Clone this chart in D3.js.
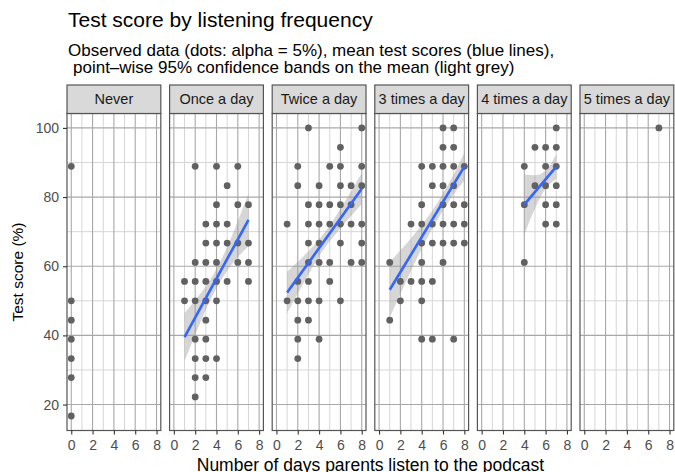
<!DOCTYPE html>
<html>
<head>
<meta charset="utf-8">
<script src="https://cdn.jsdelivr.net/npm/d3@7"></script>
<style>
  body { margin: 0; background: #fff; }
  svg { display: block; }
  text { font-family: "Liberation Sans", Arial, sans-serif; }
</style>
</head>
<body>
<script>
// facet names
const panelNames = ["Never", "Once a day", "Twice a day", "3 times a day", "4 times a day", "5 times a day"];

// observed dots (days listened, test score %)
const neverDays   = [0, 0, 0, 0, 0, 0, 0];
const neverScores = [88.9, 50, 44.4, 38.9, 33.3, 27.8, 16.7];

const onceDays   = [1, 1,
                    2, 2, 2, 2, 2, 2, 2, 2,
                    3, 3, 3, 3, 3, 3, 3, 3, 3,
                    4, 4, 4, 4, 4, 4, 4, 4,
                    5, 5, 5, 5,
                    6, 6, 6, 6,
                    7, 7, 7, 7];
const onceScores = [55.6, 50,
                    88.9, 61.1, 55.6, 50, 38.9, 33.3, 27.8, 22.2,
                    72.2, 66.7, 61.1, 55.6, 50, 44.4, 38.9, 33.3, 27.8,
                    88.9, 77.8, 72.2, 66.7, 61.1, 55.6, 50, 33.3,
                    83.3, 72.2, 66.7, 55.6,
                    88.9, 77.8, 66.7, 61.1,
                    77.8, 66.7, 61.1, 55.6];

const twiceDays   = [1, 1,
                     2, 2, 2, 2, 2, 2, 2,
                     3, 3, 3, 3, 3, 3, 3, 3,
                     4, 4, 4, 4, 4, 4, 4,
                     5, 5, 5, 5, 5,
                     6, 6, 6, 6, 6, 6, 6,
                     7, 7, 7, 7,
                     8, 8, 8, 8, 8, 8];
const twiceScores = [72.2, 50,
                     88.9, 83.3, 55.6, 50, 44.4, 38.9, 33.3,
                     100, 77.8, 72.2, 66.7, 61.1, 55.6, 50, 44.4,
                     83.3, 77.8, 72.2, 66.7, 61.1, 50, 38.9,
                     88.9, 77.8, 72.2, 61.1, 55.6,
                     94.4, 88.9, 83.3, 77.8, 72.2, 66.7, 50,
                     83.3, 77.8, 72.2, 61.1,
                     100, 88.9, 83.3, 72.2, 66.7, 61.1];

const threeDays   = [1, 1,
                     2, 2,
                     3, 3,
                     4, 4, 4, 4, 4, 4, 4, 4,
                     5, 5, 5, 5, 5, 5,
                     6, 6, 6, 6, 6, 6, 6, 6,
                     7, 7, 7, 7, 7, 7, 7, 7,
                     8, 8, 8, 8];
const threeScores = [61.1, 44.4,
                     55.6, 50,
                     72.2, 55.6,
                     88.9, 77.8, 72.2, 66.7, 61.1, 55.6, 50, 38.9,
                     88.9, 83.3, 72.2, 66.7, 55.6, 38.9,
                     100, 94.4, 88.9, 83.3, 77.8, 72.2, 66.7, 61.1,
                     100, 94.4, 88.9, 83.3, 77.8, 72.2, 66.7, 38.9,
                     88.9, 77.8, 72.2, 66.7];

const fourDays   = [4, 4, 4, 5, 5, 6, 6, 6, 6, 6, 7, 7, 7, 7, 7, 7];
const fourScores = [88.9, 77.8, 61.1, 94.4, 83.3, 94.4, 88.9, 83.3, 77.8, 72.2,
                    100, 94.4, 88.9, 83.3, 77.8, 72.2];

const fiveDays   = [7];
const fiveScores = [100];

// fitted mean lines (ends) and 95% band read at whole days
const onceFitDays = [1, 7],  onceFitScores = [39.5, 73.4];
const twiceFitDays = [1, 8], twiceFitScores = [52.4, 82.4];
const threeFitDays = [1, 8], threeFitScores = [53.2, 88.8];
const fourFitDays = [4, 7],  fourFitScores = [77.8, 88.8];

const onceBandDays = [1, 2, 3, 4, 5, 6, 7];
const onceBandLow  = [32.5, 40.2, 47.4, 53.7, 58.7, 62.6, 65.8];
const onceBandHigh = [46.5, 50.2, 54.2, 59.3, 65.5, 73.0, 81.0];

const twiceBandDays = [1, 2, 3, 4, 5, 6, 7, 8];
const twiceBandLow  = [46.4, 52.1, 57.7, 62.9, 67.2, 71.0, 74.5, 77.9];
const twiceBandHigh = [58.4, 61.3, 64.3, 67.7, 71.8, 76.6, 81.7, 86.9];

const threeBandDays = [1, 2, 3, 4, 5, 6, 7, 8];
const threeBandLow  = [45.2, 52.0, 58.7, 65.1, 70.9, 76.2, 80.8, 84.8];
const threeBandHigh = [61.2, 64.6, 68.1, 71.9, 76.1, 81.0, 86.6, 92.8];

const fourBandDays = [4, 5, 6, 7];
const fourBandLow  = [69.1, 76.7, 82.5, 85.2];
const fourBandHigh = [86.5, 86.3, 87.7, 92.4];

// axis breaks
const dayTicks = [0, 2, 4, 6, 8];
const dayMinor = [1, 3, 5, 7];
const scoreTicks = [20, 40, 60, 80, 100];
const scoreMinor = [30, 50, 70, 90];

const zip = (xs, ys) => xs.map((x, i) => ({ x: x, y: ys[i] }));
const band = (xs, lo, hi) => xs.map((x, i) => ({ x: x, lo: lo[i], hi: hi[i] }));

const facets = [
  { name: panelNames[0], pts: zip(neverDays, neverScores) },
  { name: panelNames[1], pts: zip(onceDays, onceScores), fit: zip(onceFitDays, onceFitScores), band: band(onceBandDays, onceBandLow, onceBandHigh) },
  { name: panelNames[2], pts: zip(twiceDays, twiceScores), fit: zip(twiceFitDays, twiceFitScores), band: band(twiceBandDays, twiceBandLow, twiceBandHigh) },
  { name: panelNames[3], pts: zip(threeDays, threeScores), fit: zip(threeFitDays, threeFitScores), band: band(threeBandDays, threeBandLow, threeBandHigh) },
  { name: panelNames[4], pts: zip(fourDays, fourScores), fit: zip(fourFitDays, fourFitScores), band: band(fourBandDays, fourBandLow, fourBandHigh) },
  { name: panelNames[5], pts: zip(fiveDays, fiveScores) }
];

const W = 675, H = 472;
const panelLeft = 67, panelStep = 102.6, panelW = 93.8;
const panelTop = 113.5, panelBottom = 430.5, stripTop = 85;

const svg = d3.select("body").append("svg")
  .attr("width", W)
  .attr("height", H);

const y = d3.scaleLinear().domain([12.5, 104.17]).range([panelBottom, panelTop]);

// titles
svg.append("text").attr("x", 68).attr("y", 26.7)
  .attr("font-size", 21).attr("fill", "#000")
  .text("Test score by listening frequency");
svg.append("text").attr("x", 68).attr("y", 55.5)
  .attr("font-size", 17).attr("fill", "#000")
  .text("Observed data (dots: alpha = 5%), mean test scores (blue lines),");
svg.append("text").attr("x", 73).attr("y", 72.5)
  .attr("font-size", 17).attr("fill", "#000")
  .text("point\u2013wise 95% confidence bands on the mean (light grey)");

facets.forEach((f, i) => {
  const x0 = panelLeft + i * panelStep;
  const x = d3.scaleLinear().domain([-0.4, 8.4]).range([x0, x0 + panelW]);
  const g = svg.append("g");

  // grid
  g.selectAll(".ym").data(scoreMinor).join("line")
    .attr("x1", x0).attr("x2", x0 + panelW)
    .attr("y1", d => y(d)).attr("y2", d => y(d))
    .attr("stroke", "#d6d6d6").attr("stroke-width", 1);
  g.selectAll(".xm").data(dayMinor).join("line")
    .attr("x1", d => x(d)).attr("x2", d => x(d))
    .attr("y1", panelTop).attr("y2", panelBottom)
    .attr("stroke", "#d6d6d6").attr("stroke-width", 1);
  g.selectAll(".yM").data(scoreTicks).join("line")
    .attr("x1", x0).attr("x2", x0 + panelW)
    .attr("y1", d => y(d)).attr("y2", d => y(d))
    .attr("stroke", "#a8a8a8").attr("stroke-width", 1.1);
  g.selectAll(".xM").data(dayTicks).join("line")
    .attr("x1", d => x(d)).attr("x2", d => x(d))
    .attr("y1", panelTop).attr("y2", panelBottom)
    .attr("stroke", "#a8a8a8").attr("stroke-width", 1.1);

  // confidence band
  if (f.band) {
    g.append("path").datum(f.band)
      .attr("d", d3.area().curve(d3.curveMonotoneX)
        .x(d => x(d.x)).y0(d => y(d.lo)).y1(d => y(d.hi)))
      .attr("fill", "#999999").attr("fill-opacity", 0.4);
  }

  // dots
  g.selectAll("circle").data(f.pts).join("circle")
    .attr("cx", d => x(d.x)).attr("cy", d => y(d.y)).attr("r", 3.4)
    .attr("fill", "#616161");

  // mean line
  if (f.fit) {
    g.append("path").datum(f.fit)
      .attr("d", d3.line().x(d => x(d.x)).y(d => y(d.y)))
      .attr("fill", "none").attr("stroke", "#3366FF").attr("stroke-width", 2.6);
  }

  // panel border
  g.append("rect").attr("x", x0).attr("y", panelTop)
    .attr("width", panelW).attr("height", panelBottom - panelTop)
    .attr("fill", "none").attr("stroke", "#555").attr("stroke-width", 1.2);

  // strip
  g.append("rect").attr("x", x0).attr("y", stripTop)
    .attr("width", panelW).attr("height", panelTop - stripTop)
    .attr("fill", "#d9d9d9").attr("stroke", "#555").attr("stroke-width", 1.2);
  g.append("text").attr("x", x0 + panelW / 2).attr("y", 104)
    .attr("text-anchor", "middle").attr("font-size", 14.5).attr("fill", "#1a1a1a")
    .text(f.name);

  // x axis
  const ax = g.append("g").attr("transform", "translate(0," + panelBottom + ")")
    .call(d3.axisBottom(x).tickValues(dayTicks).tickSize(4).tickPadding(6));
  ax.select(".domain").remove();
  ax.selectAll("line").attr("stroke", "#333").attr("stroke-width", 1.1);
  ax.selectAll("text").attr("font-size", 14).attr("fill", "#4d4d4d")
    .attr("font-family", "Liberation Sans, Arial, sans-serif");

  if (i === 0) {
    const ay = g.append("g").attr("transform", "translate(" + x0 + ",0)")
      .call(d3.axisLeft(y).tickValues(scoreTicks).tickSize(4).tickPadding(4));
    ay.select(".domain").remove();
    ay.selectAll("line").attr("stroke", "#333").attr("stroke-width", 1.1);
    ay.selectAll("text").attr("font-size", 14).attr("fill", "#4d4d4d")
      .attr("font-family", "Liberation Sans, Arial, sans-serif");
  }
});

// axis titles
svg.append("text")
  .attr("x", (panelLeft + panelLeft + 5 * panelStep + panelW) / 2).attr("y", 470.5)
  .attr("text-anchor", "middle").attr("font-size", 17.5).attr("fill", "#000")
  .text("Number of days parents listen to the podcast");
svg.append("text")
  .attr("transform", "translate(23," + ((panelTop + panelBottom) / 2) + ") rotate(-90)")
  .attr("text-anchor", "middle").attr("font-size", 15.5).attr("fill", "#000")
  .text("Test score (%)");
</script>
</body>
</html>
